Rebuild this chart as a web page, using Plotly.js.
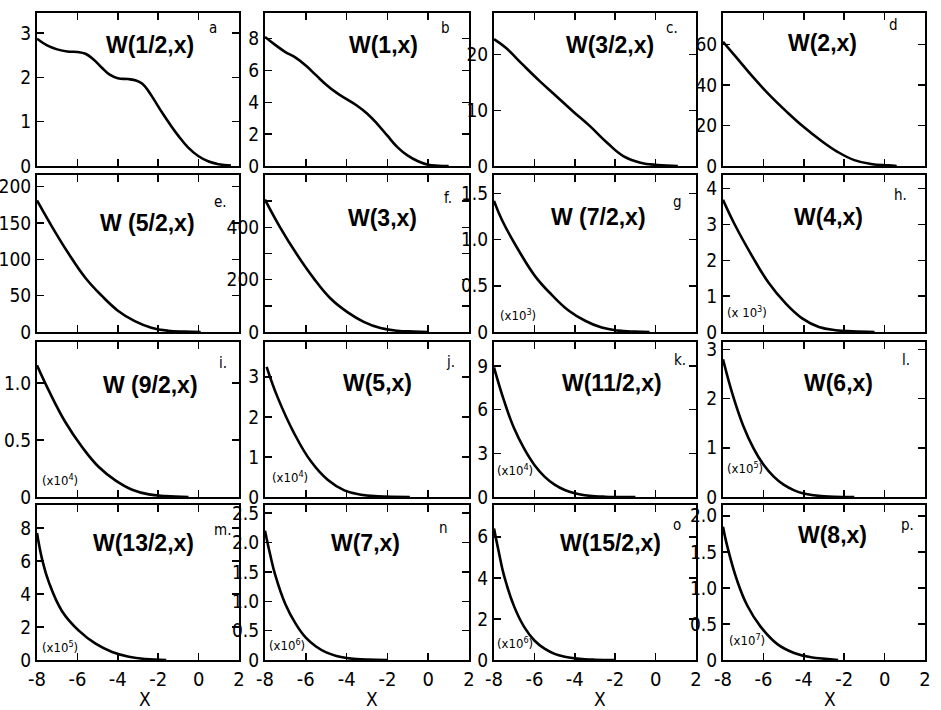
<!DOCTYPE html>
<html>
<head>
<meta charset="utf-8">
<script src="https://cdn.plot.ly/plotly-3.0.1.min.js"></script>
<style>html,body{margin:0;padding:0;background:#fff;}#chart{width:941px;height:710px;}</style>
</head>
<body>
<div id="chart"></div>
<script>
// ---- data ----
const xA = [-8,-7.5,-7,-6.5,-6,-5.6,-5.2,-4.8,-4.4,-4.0,-3.5,-3.1,-2.8,-2.5,-2.2,-1.8,-1.4,-1.0,-0.5,0,0.5,1.0,1.6];
const yA = [2.87,2.72,2.63,2.58,2.57,2.53,2.40,2.22,2.06,1.98,1.96,1.93,1.86,1.70,1.49,1.20,0.93,0.68,0.41,0.22,0.10,0.04,0.01];
const xB = [-8,-7.5,-7,-6.5,-6,-5.5,-5,-4.5,-4,-3.5,-3,-2.5,-2,-1.5,-1,-0.5,0,0.5,1.0];
const yB = [8.1,7.6,7.15,6.8,6.3,5.7,5.1,4.6,4.2,3.8,3.3,2.65,1.9,1.17,0.65,0.3,0.08,0.02,0];
const xC = [-8,-7.4,-6.6,-5.75,-4.9,-4.1,-3.25,-2.4,-1.6,-0.75,0.1,1.1];
const yC = [22.8,21.2,18.3,15.3,12.5,9.85,7.16,4.18,1.79,0.6,0.18,0];
const xD = [-8,-7.33,-6.5,-5.67,-4.83,-4,-3.17,-2.33,-1.5,-0.67,0.17,0.6];
const yD = [61.3,53.5,43.7,34.7,26.6,19.2,12.7,7.0,2.9,1.0,0.3,0];
const xE = [-8,-7.26,-6.44,-5.62,-4.8,-3.98,-3.16,-2.34,-1.52,-0.7,0.1];
const yE = [181,145,108,75,50,29,15,6,1.8,0.5,0];
const xF = [-8,-7.26,-6.44,-5.62,-4.8,-3.98,-3.16,-2.34,-1.52,-0.7,0];
const yF = [506,400,297,206,129,77,39,15,5,2,0];
const xG = [-8,-7.6,-6.77,-5.95,-5.13,-4.31,-3.49,-2.67,-1.85,-1.03,-0.3];
const yG = [1.42,1.21,0.88,0.60,0.40,0.233,0.122,0.048,0.015,0.004,0];
const xH = [-8,-7.42,-6.58,-5.75,-4.92,-4.08,-3.25,-2.42,-1.58,-0.5];
const yH = [3.69,3.0,2.14,1.38,0.81,0.38,0.14,0.05,0.02,0];
const xI = [-8,-7.42,-6.6,-5.77,-4.94,-4.12,-3.29,-2.46,-1.64,-0.5];
const yI = [1.155,0.935,0.658,0.439,0.263,0.146,0.064,0.023,0.009,0];
const xJ = [-7.92,-7.39,-6.57,-5.75,-4.93,-4.11,-3.3,-2.48,-0.9];
const yJ = [3.25,2.5,1.59,0.89,0.43,0.166,0.058,0.017,0];
const xK = [-8,-7.5,-7,-6.5,-6,-5.5,-5,-4.5,-4,-3.5,-3,-2.5,-2,-1];
const yK = [8.9,6.6,4.7,3.3,2.2,1.4,0.85,0.48,0.25,0.12,0.05,0.02,0.005,0];
const xL = [-8,-7.5,-7,-6.5,-6,-5.5,-5,-4.5,-4,-3.5,-3,-2.5,-1.5];
const yL = [2.8,2.05,1.45,1.0,0.66,0.42,0.25,0.14,0.07,0.035,0.015,0.005,0];
const xM = [-8,-7.75,-7.42,-6.76,-5.93,-5.1,-4.28,-3.45,-2.63,-1.6];
const yM = [7.7,6.12,4.74,2.96,1.78,0.99,0.49,0.2,0.06,0];
const xN = [-8,-7.75,-7.5,-7,-6.5,-6,-5.5,-5,-4.5,-4,-3.5,-3,-2];
const yN = [2.2,1.8,1.45,0.95,0.62,0.38,0.23,0.13,0.07,0.035,0.016,0.007,0];
const xO = [-8,-7.75,-7.5,-7,-6.5,-6,-5.5,-5,-4.5,-4,-3.5,-3,-2];
const yO = [6.4,5.2,4.1,2.6,1.6,0.95,0.55,0.3,0.16,0.08,0.035,0.015,0];
const xP = [-8,-7.8,-7.3,-6.8,-6.14,-5.31,-4.48,-3.65,-2.82,-2.3];
const yP = [1.85,1.59,1.10,0.756,0.463,0.22,0.098,0.039,0.015,0];

const panelTitles = ['W(1/2,x)','W(1,x)','W(3/2,x)','W(2,x)',
  'W (5/2,x)','W(3,x)','W (7/2,x)','W(4,x)',
  'W (9/2,x)','W(5,x)','W(11/2,x)','W(6,x)',
  'W(13/2,x)','W(7,x)','W(15/2,x)','W(8,x)'];
const panelLetters = ['a','b','c.','d','e.','f.','g','h.','i.','j.','k.','l.','m.','n','o','p.'];
const multipliers = ['','','','','','',
  '(x10<sup>3</sup>)','(x 10<sup>3</sup>)','(x10<sup>4</sup>)','(x10<sup>4</sup>)',
  '(x10<sup>4</sup>)','(x10<sup>5</sup>)','(x10<sup>5</sup>)','(x10<sup>6</sup>)',
  '(x10<sup>6</sup>)','(x10<sup>7</sup>)'];
const xAxisLabel = 'X';
const xTickVals = [-8,-6,-4,-2,0,2];
const xTickText = ['-8','-6','-4','-2','0','2'];
const yTickVals = [[0,1,2,3],[0,2,4,6,8],[0,10,20],[0,20,40,60],
  [0,50,100,150,200],[0,100,200,300,400,500],[0,0.5,1,1.5],[0,1,2,3,4],
  [0,0.5,1],[0,1,2,3],[0,3,6,9],[0,1,2,3],
  [0,2,4,6,8],[0,0.5,1,1.5,2,2.5],[0,2,4,6],[0,0.5,1,1.5,2]];
const yTickText = [['0','1','2','3'],['0','2','4','6','8'],['0','10','20'],['0','20','40','60'],
  ['0','50','100','150','200'],['0',' ','200',' ','400',' '],['0','0.5','1.0','1.5'],['0','1','2','3','4'],
  ['0','0.5','1.0'],['0','1','2','3'],['0','3','6','9'],['0','1','2','3'],
  ['0','2','4','6','8'],['0','0.5','1.0','1.5','2.0','2.5'],['0','2','4','6'],['0','0.5','1.0','1.5','2.0']];
const yMax = [3.45,9.6,27.5,75.5,216,600,1.7,4.38,1.36,3.87,10.65,3.15,9.4,2.64,7.55,2.15];

const seriesX = [xA,xB,xC,xD,xE,xF,xG,xH,xI,xJ,xK,xL,xM,xN,xO,xP];
const seriesY = [yA,yB,yC,yD,yE,yF,yG,yH,yI,yJ,yK,yL,yM,yN,yO,yP];

// ---- layout geometry (pixels) ----
const W = 941, H = 710;
const colPx = [[37,239],[265,469],[494,696],[723,925]];
const rowPx = [[13,166],[175,332],[342,497],[505,660]];
const titlePos = [[150,45],[383,45],[610,45],[822,43],[147,223],[382,218],[598,217],[828,217],
  [150,385],[377,383],[612,383],[838,383],[143,543],[365,543],[610,543],[832,535]];
const letterPos = [[213,28],[445,28],[672,28],[893,25],[220,202],[448,198],[677,202],[900,195],
  [223,363],[450,362],[680,360],[906,360],[222,530],[443,528],[677,525],[907,525]];
const multPos = [null,null,null,null,null,null,[518,315],[747,312],[60,480],[290,477],
  [515,470],[745,468],[60,647],[287,645],[515,643],[747,640]];
const xLabelPx = [145, 372, 600, 830];

const px = v => v / W;
const py = v => 1 - v / H;

const narrow = '"Liberation Sans Narrow", "DejaVu Sans Condensed", sans-serif';
const tickFont = {family: narrow, size: 19, color: '#000'};
const traces = [];
const layout = {
  width: W, height: H,
  margin: {l: 0, r: 0, t: 0, b: 0},
  paper_bgcolor: '#fff', plot_bgcolor: '#fff',
  showlegend: false,
  annotations: []
};

for (let i = 0; i < 16; i++) {
  const r = Math.floor(i / 4), c = i % 4;
  const sfx = i === 0 ? '' : String(i + 1);
  traces.push({
    x: seriesX[i], y: seriesY[i],
    xaxis: 'x' + sfx, yaxis: 'y' + sfx,
    type: 'scatter', mode: 'lines',
    line: {color: '#000', width: 2.6, shape: 'spline', smoothing: 1.2},
    hoverinfo: 'skip'
  });
  const bottom = r === 3;
  layout['xaxis' + sfx] = {
    domain: [px(colPx[c][0]), px(colPx[c][1])],
    anchor: 'y' + sfx,
    range: [-8, 2],
    tickvals: xTickVals, ticktext: xTickText,
    showticklabels: bottom,
    ticks: 'inside', ticklen: 7, tickwidth: 1.5, tickcolor: '#000',
    showline: true, linecolor: '#000', linewidth: 2, mirror: 'ticks',
    showgrid: false, zeroline: false,
    tickfont: {family: narrow, size: 20, color: '#000'},
    automargin: false
  };
  layout['yaxis' + sfx] = {
    domain: [py(rowPx[r][1]), py(rowPx[r][0])],
    anchor: 'x' + sfx,
    range: [0, yMax[i]],
    tickvals: yTickVals[i], ticktext: yTickText[i],
    ticks: 'inside', ticklen: 7, tickwidth: 1.5, tickcolor: '#000',
    showline: true, linecolor: '#000', linewidth: 2, mirror: 'ticks',
    showgrid: false, zeroline: false,
    tickfont: tickFont, automargin: false
  };
  layout.annotations.push({
    xref: 'paper', yref: 'paper', x: px(titlePos[i][0]), y: py(titlePos[i][1]),
    text: '<b>' + panelTitles[i] + '</b>', showarrow: false,
    xanchor: 'center', yanchor: 'middle',
    font: {family: '"Liberation Sans", Arial, sans-serif', size: 23, color: '#000'}
  });
  layout.annotations.push({
    xref: 'paper', yref: 'paper', x: px(letterPos[i][0]), y: py(letterPos[i][1]),
    text: panelLetters[i], showarrow: false, xanchor: 'center', yanchor: 'middle',
    font: {family: narrow, size: 15, color: '#000'}
  });
  if (multPos[i]) {
    layout.annotations.push({
      xref: 'paper', yref: 'paper', x: px(multPos[i][0]), y: py(multPos[i][1]),
      text: multipliers[i], showarrow: false, xanchor: 'center', yanchor: 'middle',
      font: {family: narrow, size: 13, color: '#000'}
    });
  }
}
for (let c = 0; c < 4; c++) {
  layout.annotations.push({
    xref: 'paper', yref: 'paper', x: px(xLabelPx[c]), y: py(699),
    text: xAxisLabel, showarrow: false, xanchor: 'center', yanchor: 'middle',
    borderpad: 0,
    font: {family: narrow, size: 19, color: '#000'}
  });
}

Plotly.newPlot('chart', traces, layout, {staticPlot: true, displayModeBar: false});
</script>
</body>
</html>
